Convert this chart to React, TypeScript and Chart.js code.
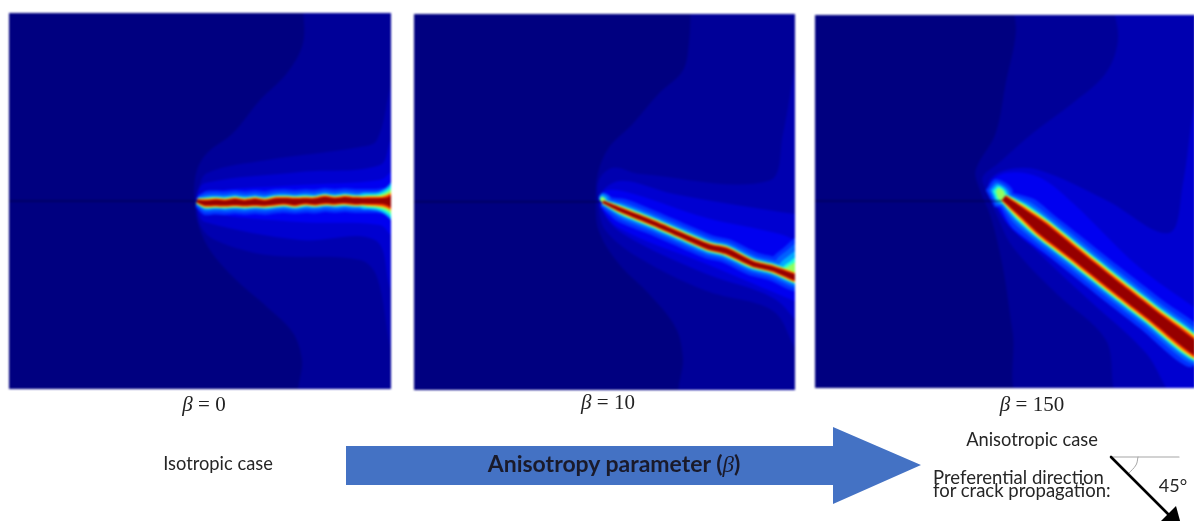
import React, { useEffect, useRef } from "react";
import { Chart, registerables } from "chart.js";

Chart.register(...registerables);

type P = [number, number];

/* ---------- colour levels ---------- */
const BASE_NAVY = "#000080";
const CONTOUR_COLORS = ["#000098", "#0000b0", "#0000d0", "#0000f0"];
const CRACK_COLORS = ["#0030ff", "#0060ff", "#00a8ff", "#20ffd8", "#90ff60", "#ffd000", "#ff3c00", "#960000"];

/* ---------- panel 1 : beta = 0 ---------- */
const p1Band1: P[] = [[303, 5], [303, 43], [287, 73], [260, 100], [233, 133], [207, 153], [197, 170], [194, 190], [195, 200], [197, 220], [208, 247], [233, 277], [267, 307], [293, 333], [302, 360], [302, 400], [400, 400], [400, 5]];
const p1Band2: P[] = [[400, 60], [391, 85], [377, 140], [360, 147], [267, 160], [207, 173], [198, 190], [196, 200], [200, 225], [215, 240], [267, 255], [360, 260], [377, 277], [391, 350], [400, 370]];
const p1Band3: P[] = [[400, 130], [391, 140], [380, 165], [300, 172], [205, 183], [197, 195], [198, 212], [205, 222], [300, 240], [375, 240], [391, 290], [400, 300]];
const p1Band4: P[] = [[400, 165], [391, 172], [380, 180], [300, 185], [205, 192], [196, 200], [205, 212], [300, 222], [380, 225], [391, 235], [400, 240]];
const p1Crack: P[] = [[197, 201], [205, 203], [215, 202.5], [225, 203], [235, 202], [245, 203], [255, 202], [265, 203], [275, 201.5], [285, 201], [295, 202], [305, 201], [315, 201.5], [325, 200], [335, 201], [345, 200], [355, 201], [365, 201], [375, 201], [395, 201]];
const p1Taper = [0.5, 0.9, 1, 0.95, 1.1, 0.95, 1.05, 0.9, 1.1, 1, 1.15, 0.95, 1.05, 1.15, 1, 1.1, 1.05, 1, 1, 1];
const p1Flares: P[][][] = [
  [],
  [],
  [[[395, 176], [388, 186], [378, 192], [360, 194], [360, 208], [378, 211], [388, 217], [395, 226]]],
  [[[395, 180], [388, 189], [378, 194], [360, 196], [360, 206], [378, 209], [388, 214], [395, 222]]],
  [[[395, 184], [389, 191], [380, 195], [362, 197], [362, 205], [380, 208], [389, 212], [395, 219]]],
  [[[395, 188], [390, 193], [381, 196], [363, 197], [363, 205], [381, 207], [390, 210], [395, 216]]],
  [[[395, 190], [390, 194], [382, 197], [364, 198], [364, 204], [382, 206], [390, 209], [395, 213]]],
  [[[395, 193], [390, 196], [383, 199], [366, 200], [366, 203], [383, 204], [390, 207], [395, 211]]],
];

/* ---------- panel 2 : beta = 10 ---------- */
const p2Band1: P[] = [[690, 5], [688, 43], [682, 70], [658, 93], [632, 123], [608, 147], [597, 173], [595, 200], [598, 230], [618, 263], [648, 293], [675, 327], [682, 357], [682, 400], [800, 400], [800, 5]];
const p2Band2: P[] = [[800, 50], [794, 67], [782, 133], [768, 180], [638, 173], [612, 167], [598, 180], [598, 207], [605, 230], [638, 257], [705, 290], [772, 310], [794, 347], [800, 355]];
const p2Band3: P[] = [[800, 214], [772, 210], [672, 193], [622, 180], [602, 190], [600, 207], [622, 233], [705, 273], [772, 297], [800, 325]];
const p2Band4: P[] = [[800, 242], [778, 233], [705, 217], [632, 193], [605, 190], [600, 204], [618, 227], [705, 263], [800, 303]];
const p2Crack: P[] = [[602, 201], [622, 210], [652, 222], [682, 235], [708, 246], [725, 250], [752, 263], [772, 268], [800, 279]];
const p2Taper = [0.45, 0.8, 0.9, 0.95, 1.1, 1.2, 1, 1, 1.1];
const p2Flares: P[][][] = [
  [[[800, 232], [786, 244], [770, 262], [800, 292]]],
  [[[800, 238], [788, 248], [775, 262], [800, 290]], [[598, 196], [602, 192], [610, 197], [604, 205]]],
  [[[800, 246], [789, 254], [779, 265], [800, 288]], [[598, 198], [601, 194], [607, 198], [603, 204]]],
  [[[800, 252], [790, 260], [782, 268], [800, 286]]],
  [[[800, 258], [790, 264], [784, 269], [800, 284]], [[599, 199], [601, 196], [605, 199], [602, 203]]],
  [],
  [],
  [],
];

/* ---------- panel 3 : beta = 150 ---------- */
const p3Band1: P[] = [[1012, 5], [1015, 33], [1005, 83], [995, 133], [975, 170], [978, 187], [990, 217], [1002, 267], [1012, 333], [1022, 400], [1200, 400], [1200, 5]];
const p3Band2: P[] = [[1112, 5], [1117, 40], [1105, 73], [1072, 103], [1032, 133], [998, 163], [982, 177], [985, 190], [995, 213], [1012, 247], [1055, 293], [1105, 340], [1120, 400], [1200, 400], [1200, 5]];
const p3Band3: P[] = [[1200, 90], [1194, 100], [1182, 183], [1168, 233], [1105, 200], [1038, 170], [1005, 170], [988, 182], [993, 203], [1032, 247], [1088, 300], [1145, 353], [1175, 400], [1200, 400]];
const p3Band4: P[] = [[1200, 312], [1138, 267], [1072, 203], [1038, 177], [1005, 173], [990, 185], [1012, 230], [1088, 282], [1200, 368]];
const p3Crack: P[] = [[1003, 198], [1022, 213], [1042, 229], [1075, 255], [1105, 279], [1150, 314], [1200, 353]];
const p3Taper = [0.45, 0.75, 1.1, 1, 1, 1, 1];
const p3Flares: P[][][] = [
  [[[985, 190], [995, 179], [1012, 190], [1006, 206], [994, 207]]],
  [[[988, 190], [996, 182], [1010, 192], [1006, 205], [995, 205]]],
  [[[990, 190], [997, 184], [1008, 193], [1003, 204], [995, 202]]],
  [[[992, 191], [998, 186], [1006, 194], [1002, 203], [996, 200]]],
  [[[995, 191], [998, 188], [1004, 193], [1001, 201], [997, 198]]],
  [],
  [],
  [],
];

/* ---------- diagram below the panels ---------- */
const bigArrow: P[] = [[346, 446], [833, 446], [833, 427], [921, 465], [833, 504], [833, 485], [346, 485]];
const horizontalRef: P[] = [[1111, 457], [1179, 457]];
const directionShaft: P[] = [[1111, 457], [1172, 518]];
const directionHead: P[] = [[1176, 506], [1182, 528], [1160, 522]];
const angleArc: P[] = [[1138, 457], [1136, 465], [1128, 474]];

const panels = [
  { left: 9, right: 391, top: 13, bottom: 389, tipX: 197, seamY: 201, bands: [p1Band1, p1Band2, p1Band3, p1Band4], crack: p1Crack, taper: p1Taper, flares: p1Flares, widths: [24, 18, 13, 11, 10, 9, 7.5, 5.5] },
  { left: 413.5, right: 794, top: 13.5, bottom: 389, tipX: 600, seamY: 201, bands: [p2Band1, p2Band2, p2Band3, p2Band4], crack: p2Crack, taper: p2Taper, flares: p2Flares, widths: [24, 17, 12, 9.5, 8.5, 7.5, 6, 4.5] },
  { left: 814.5, right: 1194, top: 15, bottom: 388, tipX: 1001, seamY: 201, bands: [p3Band1, p3Band2, p3Band3, p3Band4], crack: p3Crack, taper: p3Taper, flares: p3Flares, widths: [36, 28, 22, 19.5, 18, 16.5, 14, 11] },
];

const xy = (pts: P[]) => pts.map(([x, y]) => ({ x, y }));

// closed outline around a centre line, full width = width * taper[i];
// outer levels (low k) take less of the jaggedness than the inner ones
function ribbon(line: P[], taper: number[], width: number, k: number): P[] {
  const side = (sign: number) =>
    line.map(([x, y], i) => {
      const a = line[Math.max(0, i - 1)];
      const b = line[Math.min(line.length - 1, i + 1)];
      const dx = b[0] - a[0];
      const dy = b[1] - a[1];
      const len = Math.hypot(dx, dy) || 1;
      const v = taper[i];
      const t = v < 0.7 ? v : 1 + ((v - 1) * k) / (CRACK_COLORS.length - 1);
      const half = (width * t) / 2;
      return [x - (sign * half * dy) / len, y + (sign * half * dx) / len] as P;
    });
  return [...side(1), ...side(-1).reverse()];
}

const polygon = (pts: P[], color: string, tension = 0.35) => ({
  data: xy(pts), showLine: true, fill: "shape", backgroundColor: color, borderColor: color,
  borderWidth: 0, pointRadius: 0, tension,
});
const stroke = (pts: P[], color: string, width: number, tension = 0.2) => ({
  data: xy(pts), showLine: true, fill: false, borderColor: color, backgroundColor: color,
  borderWidth: width, pointRadius: 0, tension, borderCapStyle: "round", borderJoinStyle: "round",
});

function makeChart(canvas: HTMLCanvasElement, datasets: any[], xMin: number, xMax: number, yTop: number, yBottom: number) {
  // listed bottom layer first; Chart.js paints lower "order" on top
  const ordered = datasets.map((d, i) => ({ ...d, order: datasets.length - i }));
  return new Chart(canvas, {
    type: "scatter",
    data: { datasets: ordered },
    options: {
      animation: false, responsive: false, events: [],
      layout: { padding: 0 },
      plugins: { legend: { display: false }, tooltip: { enabled: false } },
      scales: {
        x: { type: "linear", display: false, min: xMin, max: xMax },
        y: { type: "linear", display: false, min: yTop, max: yBottom, reverse: true },
      },
    },
  } as any);
}

const Txt = ({ x, y, size, children, font, weight, anchor = "middle", color = "#262626", lh }: any) => (
  <div style={{
    position: "absolute", left: x, top: y, whiteSpace: "pre", color, fontFamily: font ?? "Lato", fontSize: size,
    fontWeight: weight ?? 400, lineHeight: lh ?? 1,
    transform: `translate(${anchor === "middle" ? "-50%" : "0"}, -50%)`, filter: "blur(0.45px)",
  }}>{children}</div>
);

const Beta = ({ x, y, text }: { x: number; y: number; text: string }) => (
  <Txt x={x} y={y} size={21} font="'Liberation Serif'" color="#222">
    <i>β</i> = {text}
  </Txt>
);

export default function App() {
  const refs = useRef<(HTMLCanvasElement | null)[]>([]);
  const overlay = useRef<HTMLCanvasElement | null>(null);

  useEffect(() => {
    const charts: Chart[] = [];
    panels.forEach((p, i) => {
      const ds: any[] = [];
      p.bands.forEach((b, k) => ds.push(polygon(b, CONTOUR_COLORS[k])));
      CRACK_COLORS.forEach((c, k) => {
        p.flares[k].forEach((f) => ds.push(polygon(f, c)));
        ds.push(polygon(ribbon(p.crack, p.taper, p.widths[k], k), c, 0.25));
      });
      ds.push(stroke([[p.left, p.seamY], [p.tipX, p.seamY]], "#00004a", 1, 0));
      charts.push(makeChart(refs.current[i]!, ds, p.left, p.right, p.top, p.bottom));
    });
    charts.push(makeChart(overlay.current!, [
      polygon(bigArrow, "#4472c4", 0),
      stroke(horizontalRef, "#a6a6a6", 1.2, 0),
      stroke(angleArc, "#a6a6a6", 1, 0.4),
      stroke(directionShaft, "#000000", 2.6, 0),
      polygon(directionHead, "#000000", 0),
    ], 0, 1194, 0, 521));
    return () => charts.forEach((c) => c.destroy());
  }, []);

  return (
    <div style={{ position: "absolute", left: 0, top: 0, width: 1194, height: 521, overflow: "hidden", background: "#fff" }}>
      {panels.map((p, i) => (
        <canvas
          key={i}
          ref={(el) => { refs.current[i] = el; }}
          width={Math.round(p.right - p.left)}
          height={Math.round(p.bottom - p.top)}
          style={{
            position: "absolute", left: p.left, top: p.top, background: BASE_NAVY,
            width: Math.round(p.right - p.left), height: Math.round(p.bottom - p.top), filter: "blur(1px)",
          }}
        />
      ))}
      <canvas ref={overlay} width={1194} height={521}
        style={{ position: "absolute", left: 0, top: 0, width: 1194, height: 521, filter: "blur(0.5px)" }} />
      <Beta x={204} y={404} text="0" />
      <Beta x={608} y={402} text="10" />
      <Beta x={1032} y={404} text="150" />
      <Txt x={218} y={463} size={18.3}>Isotropic case</Txt>
      <Txt x={614} y={464} size={23} weight={700} color="#1a1a2a">
        Anisotropy parameter (<i style={{ fontFamily: "'Liberation Serif'", fontWeight: 400 }}>β</i>)
      </Txt>
      <Txt x={1032} y={439} size={18.3}>Anisotropic case</Txt>
      <Txt x={933} y={477} size={18.5} anchor="start">Preferential direction</Txt>
      <Txt x={933} y={490} size={18.5} anchor="start">for crack propagation:</Txt>
      <Txt x={1173} y={485} size={18}>45°</Txt>
    </div>
  );
}
